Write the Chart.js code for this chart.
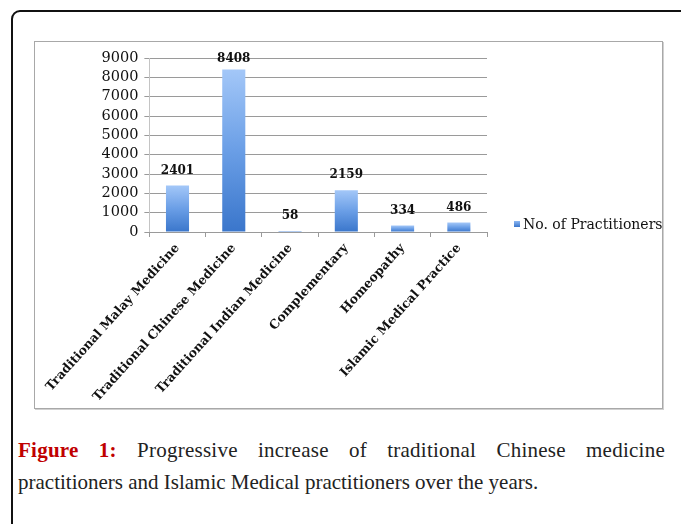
<!DOCTYPE html>
<html>
<head>
<meta charset="utf-8">
<script src="https://cdn.jsdelivr.net/npm/chart.js@4.4.1/dist/chart.umd.min.js"></script>
<style>
    html, body {
        margin: 0;
        padding: 0;
        background: #fff;
    }
    body {
        width: 681px;
        height: 524px;
        position: relative;
        overflow: hidden;
    }
    .frame {
        position: absolute;
        left: 11px;
        top: 10px;
        width: 760px;
        height: 600px;
        border: 2px solid #111;
        border-radius: 9px;
        box-sizing: border-box;
    }
    .chartBox {
        position: absolute;
        left: 34px;
        top: 41px;
        width: 629px;
        height: 368px;
        border: 1px solid #a8a8a8;
        box-shadow: 1px 1px 0 #d0d0d0;
        box-sizing: border-box;
        background: #fff;
    }
    .chartBox canvas {
        position: absolute;
        left: 0;
        top: 0;
    }
    .caption {
        position: absolute;
        left: 18px;
        top: 434px;
        width: 647px;
        font-family: "Liberation Serif", serif;
        font-size: 21px;
        line-height: 32px;
        color: #222;
    }
    .caption .l1 {
        text-align: justify;
        text-align-last: justify;
        white-space: nowrap;
        letter-spacing: 0.25px;
    }
    .caption b {
        color: #c00000;
    }
</style>
</head>
<body>
<div class="frame"></div>
<div class="chartBox">
    <canvas id="mainChart" width="627" height="366"></canvas>
</div>
<div class="caption">
    <div class="l1"><b>Figure 1:</b> Progressive increase of traditional Chinese medicine</div>
    <div>practitioners and Islamic Medical practitioners over the years.</div>
</div>

<script>
const categories = [
    "Traditional Malay Medicine",
    "Traditional Chinese Medicine",
    "Traditional Indian Medicine",
    "Complementary",
    "Homeopathy",
    "Islamic Medical Practice",
];
const practitioners = [2401, 8408, 58, 2159, 334, 486];
const seriesName = "No. of Practitioners";
const yTicks = [0, 1000, 2000, 3000, 4000, 5000, 6000, 7000, 8000, 9000];

const serif = "'DejaVu Serif', serif";

// 막대마다 위가 밝고 아래가 진한 그라데이션
function barGradient(context) {
    const chart = context.chart;
    if (!chart.chartArea || context.raw === undefined) {
        return "#5b8fdc";
    }
    const y = chart.scales.y;
    const top = y.getPixelForValue(context.raw);
    const bottom = y.getPixelForValue(0);
    const g = chart.ctx.createLinearGradient(0, top, 0, bottom);
    g.addColorStop(0, "#a3c7f8");
    g.addColorStop(0.5, "#6a9ee6");
    g.addColorStop(1, "#3a76cb");
    return g;
}

// 값 라벨 + 범례
const extras = {
    id: "extras",
    afterDatasetsDraw(chart) {
        const { ctx, chartArea } = chart;
        const meta = chart.getDatasetMeta(0);
        ctx.save();
        ctx.font = "bold 12px " + serif;
        ctx.fillStyle = "#111";
        ctx.textAlign = "center";
        ctx.textBaseline = "bottom";
        meta.data.forEach((bar, i) => {
            const yPos = Math.max(bar.y - 9, chartArea.top + 7);
            ctx.fillText(String(practitioners[i]), bar.x, yPos);
        });

        // legend
        const lx = chartArea.right + 27;
        const ly = 182;
        const sq = ctx.createLinearGradient(0, ly - 3, 0, ly + 3);
        sq.addColorStop(0, "#8cb7f2");
        sq.addColorStop(1, "#3a76cb");
        ctx.fillStyle = sq;
        ctx.fillRect(lx, ly - 3, 6, 6);
        ctx.fillStyle = "#111";
        ctx.font = "14px " + serif;
        ctx.textAlign = "left";
        ctx.textBaseline = "middle";
        ctx.fillText(seriesName, lx + 9, ly + 1);
        ctx.restore();
    },
};

const chart = new Chart(document.getElementById("mainChart").getContext("2d"), {
    type: "bar",
    data: {
        labels: categories,
        datasets: [
            {
                label: seriesName,
                data: practitioners,
                backgroundColor: barGradient,
                borderWidth: 0,
                categoryPercentage: 1,
                barPercentage: 0.41,
            },
        ],
    },
    options: {
        responsive: false,
        animation: false,
        devicePixelRatio: 1,
        layout: {
            padding: { left: 0, top: 16, right: 175, bottom: 0 },
        },
        scales: {
            y: {
                min: 0,
                max: 9000,
                afterBuildTicks: (scale) => {
                    scale.ticks = yTicks.map((v) => ({ value: v }));
                },
                afterFit: (scale) => {
                    scale.width = 114;
                },
                grid: {
                    color: "#9a9a9a",
                    tickLength: 5,
                    lineWidth: 1,
                },
                border: {
                    display: true,
                    color: "#c4c4c4",
                },
                ticks: {
                    font: { family: serif, size: 14.5 },
                    color: "#111",
                    padding: 6,
                    autoSkip: false,
                    callback: (v) => String(v),
                },
            },
            x: {
                afterFit: (scale) => {
                    scale.height = 176;
                },
                grid: {
                    display: true,
                    drawOnChartArea: false,
                    color: "#9a9a9a",
                    tickLength: 5,
                    offset: true,
                },
                border: {
                    display: true,
                    color: "#9a9a9a",
                },
                ticks: {
                    font: { family: serif, size: 12.5, weight: "bold" },
                    color: "#111",
                    maxRotation: 48,
                    minRotation: 48,
                    autoSkip: false,
                    padding: 4,
                },
            },
        },
        plugins: {
            legend: { display: false },
            tooltip: { enabled: false },
        },
    },
    plugins: [extras],
});
</script>
</body>
</html>
